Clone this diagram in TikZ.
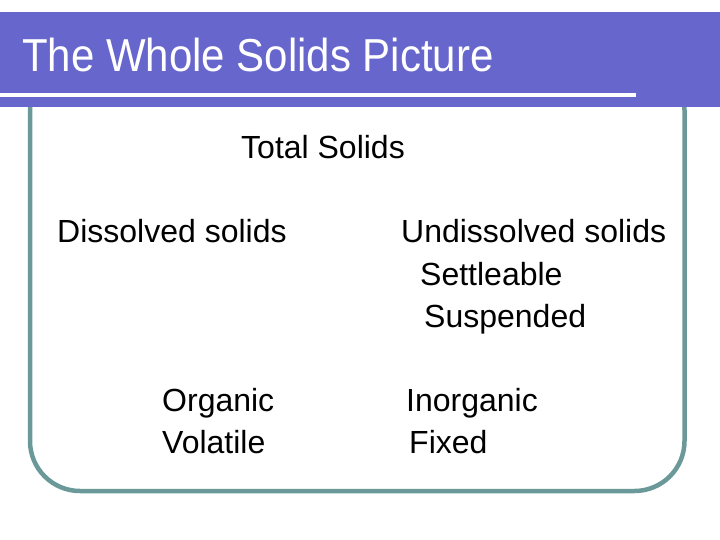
\documentclass[tikz,border=0pt]{standalone}
\usepackage{fontspec}
\setmainfont{Liberation Sans}
\definecolor{banner}{RGB}{102,102,204}
\definecolor{frame}{RGB}{107,153,153}
\begin{document}
\begin{tikzpicture}[x=1pt,y=-1pt,
  body/.style={anchor=base west,inner sep=0pt,font=\fontsize{32}{38}\selectfont,text=black},
  ttl/.style={anchor=base west,inner sep=0pt,font=\fontsize{42}{48}\selectfont,text=white}]
\useasboundingbox (0,0) rectangle (720,540);
\fill[white] (0,0) rectangle (720,540);
% frame
\draw[frame,line width=4.5pt,rounded corners=50pt] (30,60) rectangle (684.5,491);
% banner
\fill[banner] (0,12) rectangle (720,107.5);
\fill[white] (0,93.5) rectangle (636,97.5);
\node[ttl] (title) at (22,72) {\scalebox{1}[1.1]{The Whole Solids Picture}};
% texts
\node[body] (total) at (241,159) {Total Solids};
\node[body] (diss) at (57,243) {Dissolved solids};
\node[body] (undiss) at (401,243) {Undissolved solids};
\node[body] (settle) at (420,285) {Settleable};
\node[body] (susp) at (424,327) {Suspended};
\node[body] (org) at (162,411) {Organic};
\node[body] (vol) at (162,453) {Volatile};
\node[body] (inorg) at (406,411) {Inorganic};
\node[body] (fixed) at (409,453) {Fixed};
\end{tikzpicture}
\end{document}
